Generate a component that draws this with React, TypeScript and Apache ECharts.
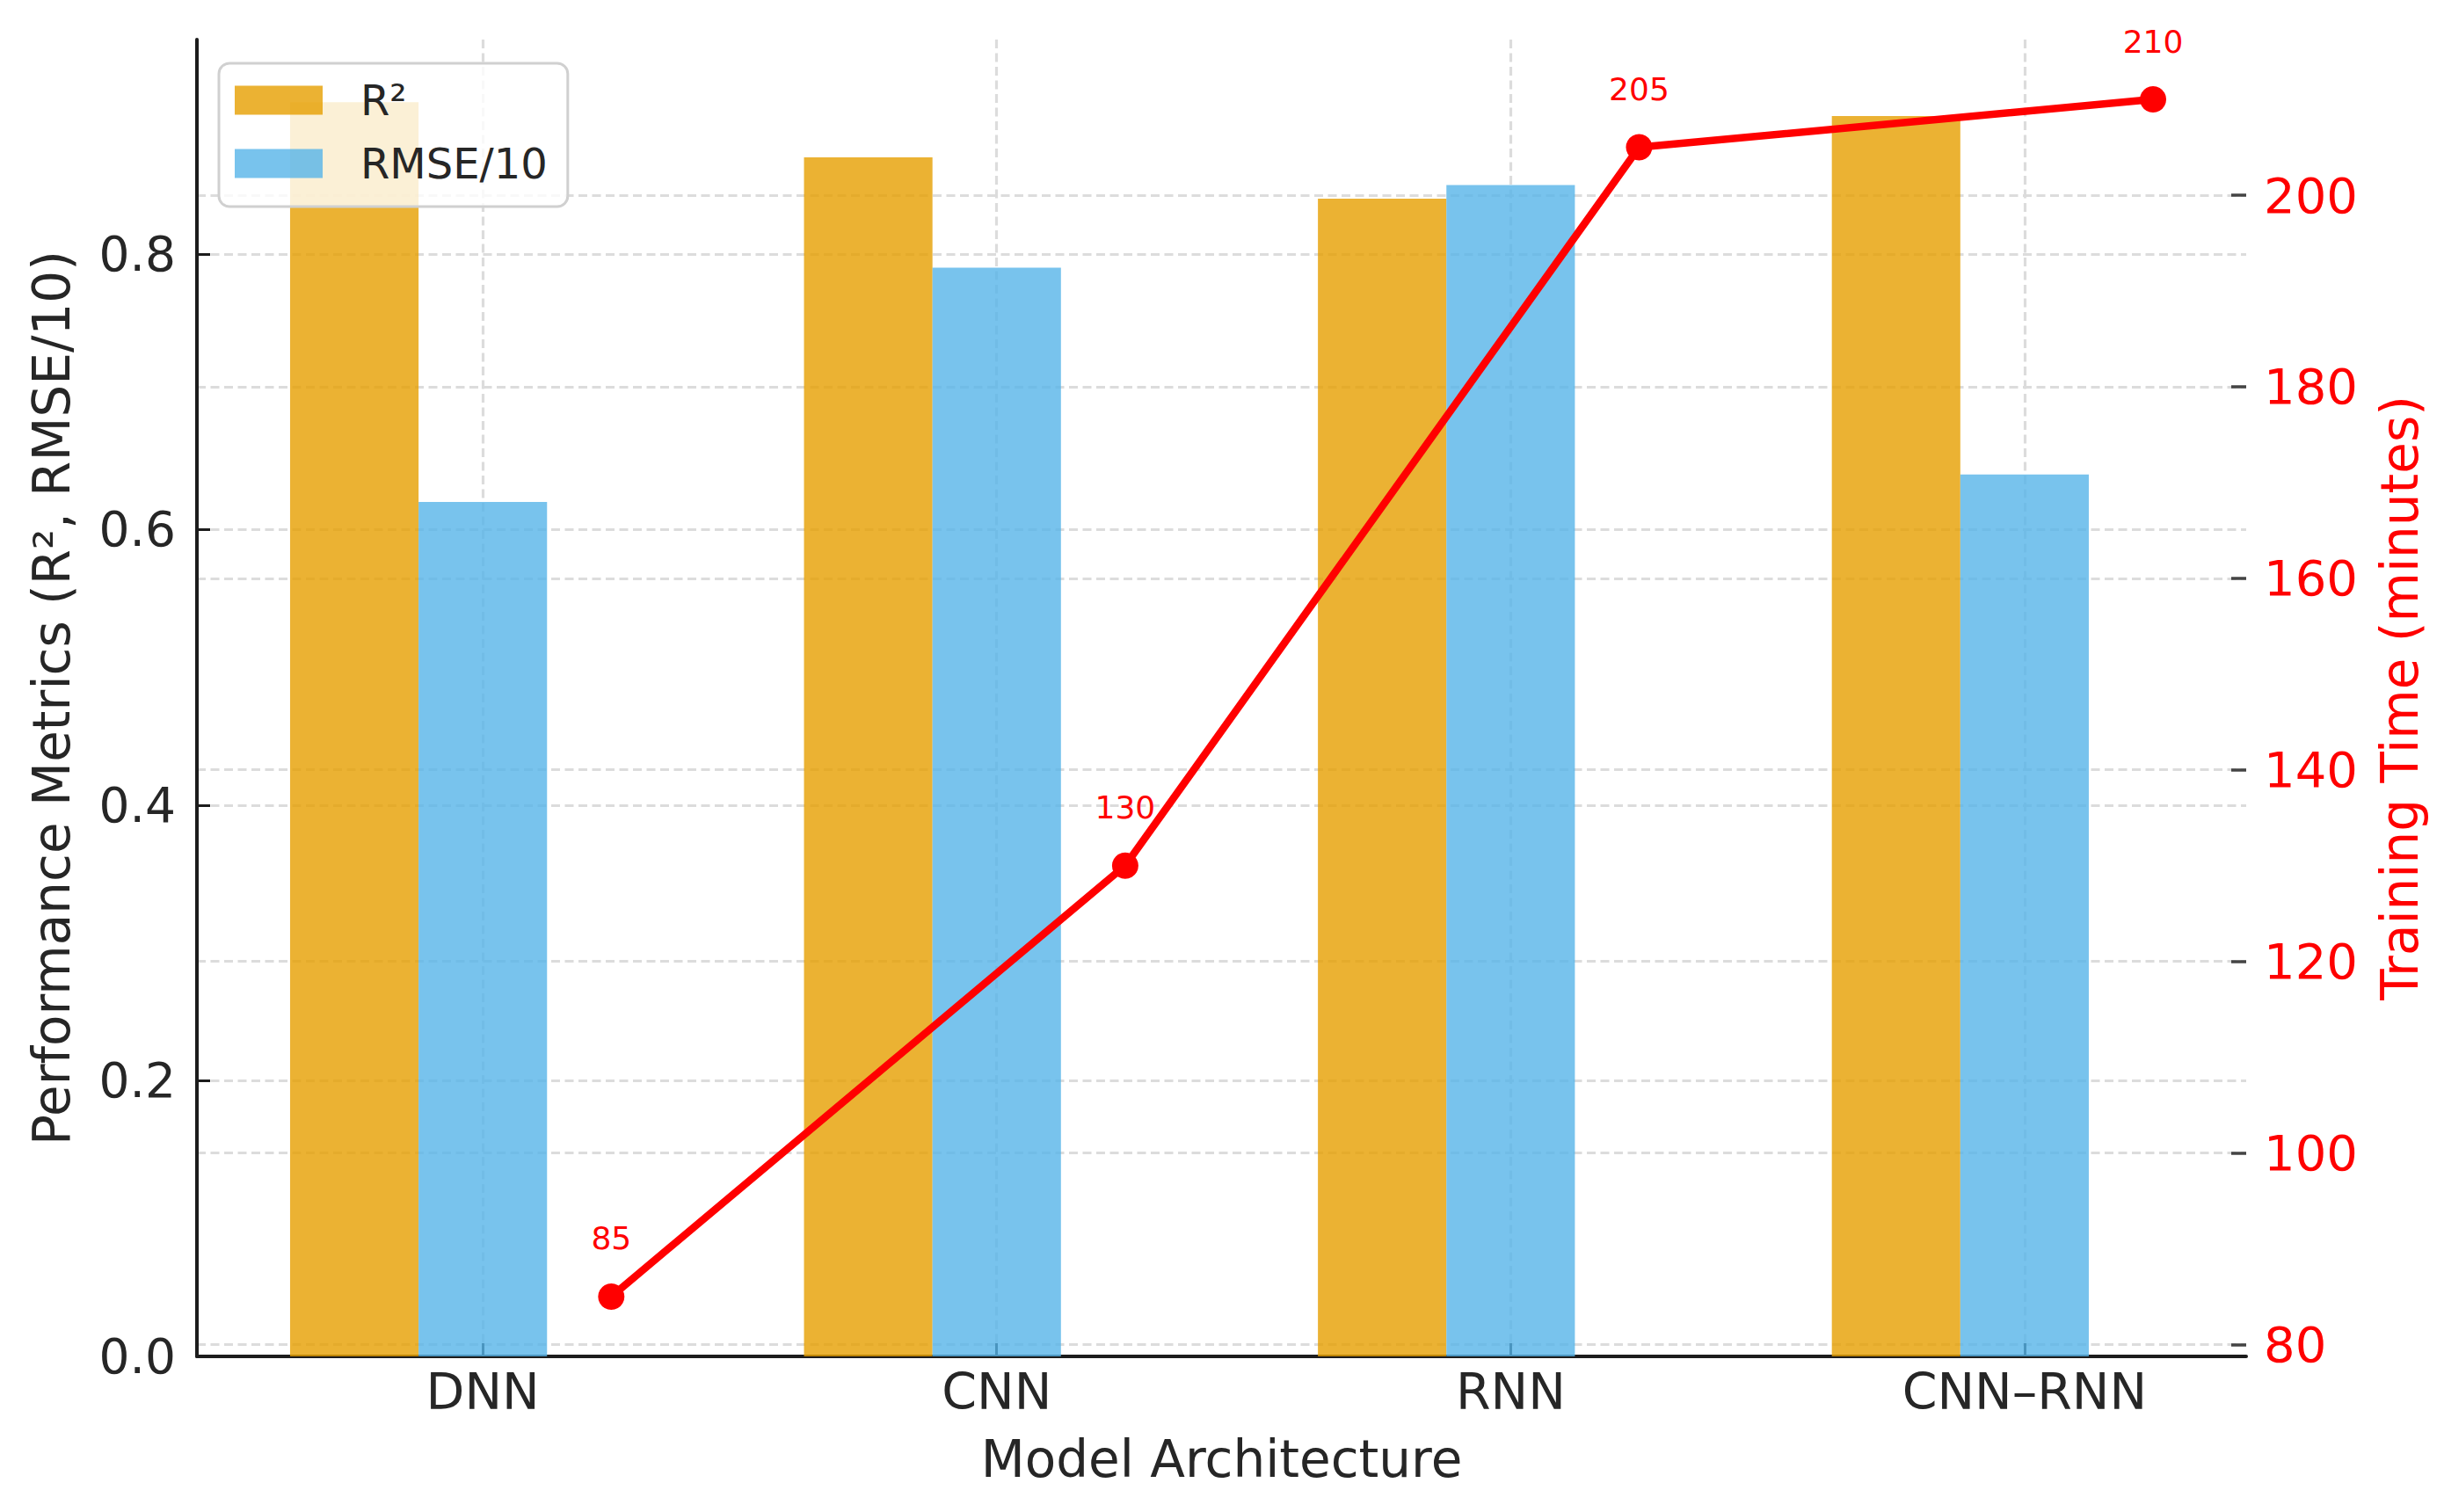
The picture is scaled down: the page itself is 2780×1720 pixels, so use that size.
import React, { useEffect, useRef } from 'react';
import * as echarts from 'echarts';

// ---- data ----
const categories = ['DNN', 'CNN', 'RNN', 'CNN–RNN'];
const r2Values = [0.91, 0.87, 0.84, 0.9];
const rmseValues = [0.62, 0.79, 0.85, 0.64];
const trainingTime = [85, 130, 205, 210];
const leftTicks = [0, 0.2, 0.4, 0.6, 0.8];
const rightTicks = [80, 100, 120, 140, 160, 180, 200];
const categoryTicks = [0, 1, 2, 3];

// ---- layout / style ----
const W = 2780;
const H = 1720;
const GRID = { left: 224, right: 225, top: 45, bottom: 177 };
const X_MIN = -0.55625;
const X_MAX = 3.43125;
const BAR_UNITS = 0.25;
const FONT = 'DejaVu Sans';
const GRIDLINE = { color: '#dcdcdc', width: 3.2, type: [10, 5.5] as any };
const SPINE = '#1c1c1c';

export default function App() {
  const ref = useRef<HTMLDivElement>(null);

  useEffect(() => {
    if (!ref.current) return;
    const chart = echarts.init(ref.current, undefined, { renderer: 'svg' });
    const plotW = W - GRID.left - GRID.right;
    const barW = (BAR_UNITS * plotW) / (X_MAX - X_MIN);

    const option: any = {
      animation: false,
      backgroundColor: '#ffffff',
      textStyle: { fontFamily: FONT },
      grid: { ...GRID, containLabel: false },
      legend: {
        data: ['R²', 'RMSE/10'],
        orient: 'vertical',
        left: 249,
        top: 72,
        padding: [18, 23, 25, 18],
        itemWidth: 100,
        itemHeight: 33,
        itemGap: 24,
        icon: 'rect',
        backgroundColor: 'rgba(255,255,255,0.8)',
        borderColor: '#d0d0d0',
        borderWidth: 3,
        borderRadius: 12,
        textStyle: { fontSize: 48, color: '#262626', fontFamily: FONT, padding: [0, 0, 0, 38] },
      },
      xAxis: {
        type: 'value',
        min: X_MIN,
        max: X_MAX,
        name: 'Model Architecture',
        nameLocation: 'middle',
        nameGap: 88,
        nameTextStyle: { fontSize: 58, color: '#262626', fontFamily: FONT },
        axisLine: { show: true, onZero: false, lineStyle: { color: SPINE, width: 4 } },
        axisTick: {
          show: true,
          inside: true,
          length: 15,
          customValues: categoryTicks,
          lineStyle: { color: SPINE, width: 3 },
        },
        axisLabel: {
          customValues: categoryTicks,
          formatter: (v: number) => categories[Math.round(v)],
          fontSize: 57,
          color: '#262626',
          margin: 11,
          fontFamily: FONT,
        },
        splitLine: { show: true, lineStyle: GRIDLINE },
      },
      yAxis: [
        {
          type: 'value',
          position: 'left',
          min: 0,
          max: 0.91 * 1.05,
          name: 'Performance Metrics (R², RMSE/10)',
          nameLocation: 'middle',
          nameRotate: 90,
          nameGap: 136,
          nameTextStyle: { fontSize: 58, color: '#262626', fontFamily: FONT },
          axisLine: { show: true, onZero: false, lineStyle: { color: SPINE, width: 4 } },
          axisTick: {
            show: true,
            inside: true,
            length: 15,
            customValues: leftTicks,
            lineStyle: { color: SPINE, width: 3 },
          },
          axisLabel: {
            customValues: leftTicks,
            formatter: (v: number) => v.toFixed(1),
            fontSize: 55,
            color: '#262626',
            margin: 24,
            fontFamily: FONT,
          },
          splitLine: { show: true, lineStyle: GRIDLINE },
        },
        {
          type: 'value',
          position: 'right',
          min: 78.75,
          max: 216.25,
          name: 'Training Time (minutes)',
          nameLocation: 'middle',
          nameRotate: 90,
          nameGap: 146,
          nameTextStyle: { fontSize: 58, color: '#ff0000', fontFamily: FONT },
          axisLine: { show: false, onZero: false },
          axisTick: {
            show: true,
            inside: true,
            length: 17,
            customValues: rightTicks,
            lineStyle: { color: '#444444', width: 3.5 },
          },
          axisLabel: {
            customValues: rightTicks,
            fontSize: 56,
            color: '#ff0000',
            margin: 20,
            fontFamily: FONT,
          },
          splitLine: { show: true, lineStyle: GRIDLINE },
        },
      ],
      series: [
        {
          name: 'R²',
          type: 'bar',
          xAxisIndex: 0,
          yAxisIndex: 0,
          barWidth: barW,
          barGap: '-100%',
          itemStyle: { color: 'rgba(230,159,0,0.8)' },
          data: r2Values.map((v, i) => [categoryTicks[i] - BAR_UNITS, v]),
        },
        {
          name: 'RMSE/10',
          type: 'bar',
          xAxisIndex: 0,
          yAxisIndex: 0,
          barWidth: barW,
          barGap: '-100%',
          itemStyle: { color: 'rgba(86,180,233,0.8)' },
          data: rmseValues.map((v, i) => [categoryTicks[i], v]),
        },
        {
          name: 'Training Time',
          type: 'line',
          xAxisIndex: 0,
          yAxisIndex: 1,
          z: 3,
          symbol: 'circle',
          symbolSize: 30,
          lineStyle: { color: '#ff0000', width: 8.5 },
          itemStyle: { color: '#ff0000' },
          label: {
            show: true,
            position: 'top',
            distance: 33,
            fontSize: 36,
            color: '#ff0000',
            fontFamily: FONT,
            formatter: (p: any) => String(p.value[1]),
          },
          data: trainingTime.map((v, i) => [categoryTicks[i] + BAR_UNITS, v]),
        },
      ],
    };

    chart.setOption(option);
    return () => chart.dispose();
  }, []);

  return (
    <div
      ref={ref}
      style={{ position: 'absolute', left: 0, top: 0, width: W, height: H, background: '#fff' }}
    />
  );
}
